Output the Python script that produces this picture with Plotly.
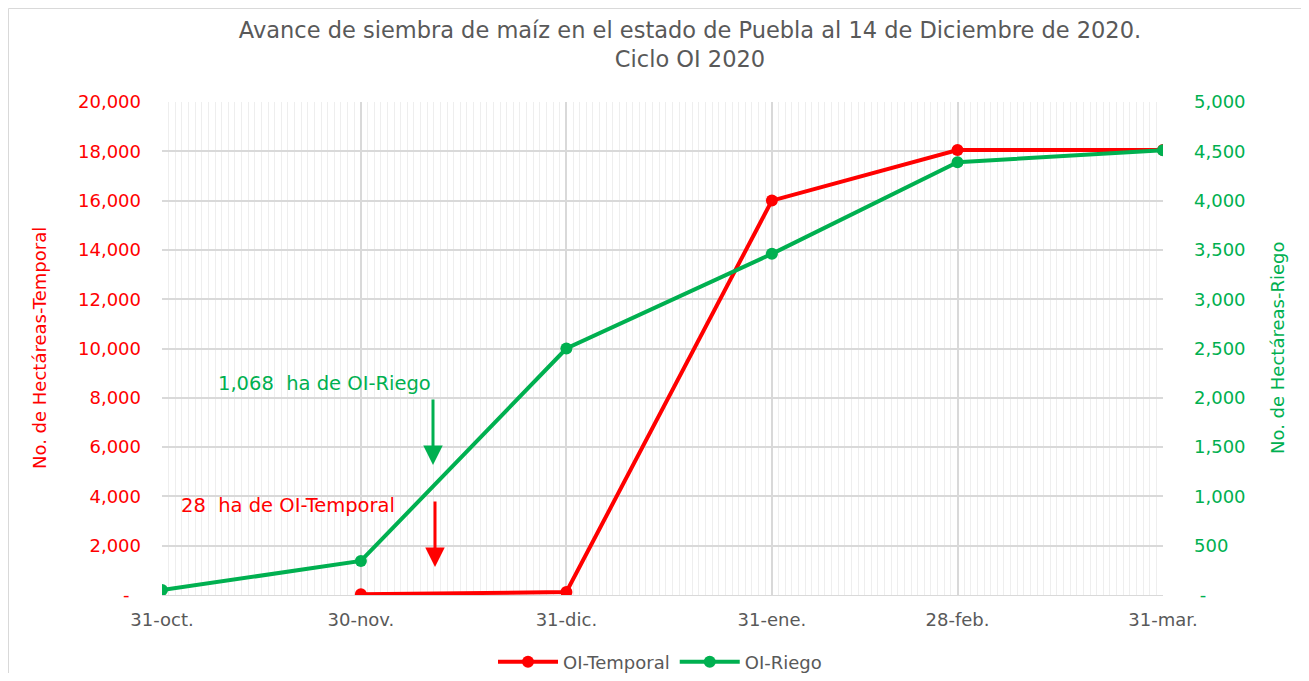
import plotly.graph_objects as go

dates = ["2020-10-31", "2020-11-30", "2020-12-31", "2021-01-31", "2021-02-28", "2021-03-31"]
tick_labels = ["31-oct.", "30-nov.", "31-dic.", "31-ene.", "28-feb.", "31-mar."]
temporal = [None, 28, 120, 16000, 18050, 18050]
riego = [50, 345, 2500, 3460, 4390, 4510]

left_vals = [0, 2000, 4000, 6000, 8000, 10000, 12000, 14000, 16000, 18000, 20000]
left_text = ["-\u00a0\u00a0", "2,000", "4,000", "6,000", "8,000", "10,000", "12,000", "14,000", "16,000", "18,000", "20,000"]
right_vals = [0, 500, 1000, 1500, 2000, 2500, 3000, 3500, 4000, 4500, 5000]
right_text = ["\u00a0-", "500", "1,000", "1,500", "2,000", "2,500", "3,000", "3,500", "4,000", "4,500", "5,000"]

RED = "#FF0000"
GREEN = "#00B050"
GRAY = "#595959"
FONT = "DejaVu Sans"

# page offset caused by default body margin
OFF = 8
PW, PH = 1309, 681
W, H = PW - 2 * OFF, PH - 2 * OFF
# plot area in page pixels
L, R, T, B = 162, 1163, 102, 595

def px(xp):
    return (xp - L) / (R - L)

def py(yp):
    return (B - yp) / (B - T)

def cx(xp):
    return (xp - OFF) / W

def cy(yp):
    return 1 - (yp - OFF) / H

fig = go.Figure()
fig.add_trace(go.Scatter(x=dates, y=temporal, name="OI-Temporal", mode="lines+markers",
                         line=dict(color=RED, width=4), marker=dict(color=RED, size=12),
                         yaxis="y"))
fig.add_trace(go.Scatter(x=dates, y=riego, name="OI-Riego", mode="lines+markers",
                         line=dict(color=GREEN, width=4), marker=dict(color=GREEN, size=12),
                         yaxis="y2"))

fig.update_layout(
    width=W, height=H,
    margin=dict(l=L - OFF, r=(PW - OFF) - R, t=T - OFF, b=(PH - OFF) - B),
    paper_bgcolor="white", plot_bgcolor="white",
    font=dict(family=FONT, color=GRAY),
    title=dict(text="Avance de siembra de maíz en el estado de Puebla al 14 de Diciembre de 2020.<br>Ciclo OI 2020",
               x=cx(690), xanchor="center", xref="container", y=cy(38), yanchor="middle", yref="container",
               font=dict(size=22.5, color=GRAY, family=FONT)),
    xaxis=dict(type="date", range=["2020-10-31", "2021-03-31"],
               tickvals=dates, ticktext=tick_labels,
               tickfont=dict(size=18, color=GRAY),
               showgrid=True, gridcolor="#D9D9D9", gridwidth=1.5,
               minor=dict(dtick=86400000, showgrid=True, gridcolor="#EEEEEE", gridwidth=1),
               showline=True, linecolor="#D9D9D9", zeroline=False, ticks="", ticklabelstandoff=8),
    yaxis=dict(range=[0, 20000], tickvals=left_vals, ticktext=left_text,
               tickfont=dict(size=18, color=RED), ticklabelstandoff=20,
               showgrid=True, gridcolor="#D9D9D9", gridwidth=1.5, zeroline=False, ticks="", showline=False),
    yaxis2=dict(range=[0, 5000], tickvals=right_vals, ticktext=right_text, overlaying="y", side="right",
                tickfont=dict(size=18, color=GREEN), ticklabelstandoff=30,
                showgrid=False, zeroline=False, ticks=""),
    legend=dict(orientation="h", x=cx(660), xanchor="center", xref="container",
                y=cy(662), yref="container", yanchor="middle",
                font=dict(size=18, color=GRAY), itemwidth=60),
    showlegend=True,
)

# axis titles
fig.add_annotation(text="No. de Hectáreas-Temporal", x=px(39), y=py(348), xref="paper", yref="paper",
                   showarrow=False, textangle=-90, xanchor="center", yanchor="middle",
                   font=dict(size=18, color=RED))
fig.add_annotation(text="No. de Hectáreas-Riego", x=px(1277), y=py(348), xref="paper", yref="paper",
                   showarrow=False, textangle=-90, xanchor="center", yanchor="middle",
                   font=dict(size=18, color=GREEN))

fig.add_annotation(text="1,068  ha de OI-Riego", x=px(324), y=py(383), xref="paper", yref="paper",
                   showarrow=False, xanchor="center", yanchor="middle", font=dict(size=19.5, color=GREEN))
fig.add_annotation(text="28  ha de OI-Temporal", x=px(288), y=py(505), xref="paper", yref="paper",
                   showarrow=False, xanchor="center", yanchor="middle", font=dict(size=19.5, color=RED))
fig.add_annotation(text="", x=px(433), y=py(465), xref="paper", yref="paper",
                   ax=0, ay=-67, showarrow=True, arrowhead=2, arrowsize=1.3, arrowwidth=3,
                   arrowcolor=GREEN)
fig.add_annotation(text="", x=px(435), y=py(567), xref="paper", yref="paper",
                   ax=0, ay=-67, showarrow=True, arrowhead=2, arrowsize=1.3, arrowwidth=3,
                   arrowcolor=RED)

fig.add_shape(type="rect", xref="paper", yref="paper",
              x0=px(OFF + 0.5), x1=px(1305), y0=py(677), y1=py(OFF + 0.5),
              line=dict(color="#D9D9D9", width=1), fillcolor="rgba(0,0,0,0)", layer="below")

fig.write_html("out.html")
